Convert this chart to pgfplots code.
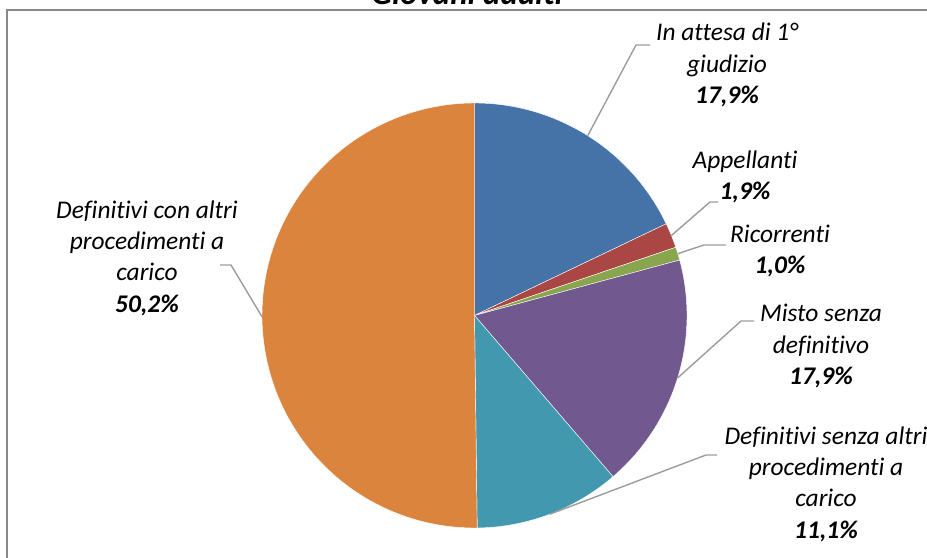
\documentclass[border=0pt]{standalone}
\usepackage{fontspec}
\setmainfont[Ligatures={NoCommon}]{Carlito}
\usepackage{pgfplots}
\pgfplotsset{compat=1.18}
\definecolor{cA}{HTML}{4572A7}
\definecolor{cB}{HTML}{AA4643}
\definecolor{cC}{HTML}{89A54E}
\definecolor{cD}{HTML}{71588F}
\definecolor{cE}{HTML}{4198AF}
\definecolor{cF}{HTML}{DB843D}
\definecolor{leader}{HTML}{9C9C9C}
\definecolor{frame}{HTML}{888888}
% slice values (percent), clockwise from 12 o'clock
\def\vA{17.9}\def\vB{1.9}\def\vC{1.0}\def\vD{17.9}\def\vE{11.1}\def\vF{50.2}
\pgfmathsetmacro{\sA}{0}
\pgfmathsetmacro{\sB}{\sA+\vA}
\pgfmathsetmacro{\sC}{\sB+\vB}
\pgfmathsetmacro{\sD}{\sC+\vC}
\pgfmathsetmacro{\sE}{\sD+\vD}
\pgfmathsetmacro{\sF}{\sE+\vE}
\pgfmathsetmacro{\sG}{\sF+\vF}
\def\cx{474.5}\def\cy{242.5}\def\rr{212.5}
\newcommand{\slice}[3]{%
  \addplot[fill=#1, draw=white, line width=0.4bp, domain={90-3.6*#3}:{90-3.6*#2}, samples=120, variable=\t]
    ({\cx+\rr*cos(\t)},{\cy+\rr*sin(\t)}) -- (axis cs:\cx,\cy) -- cycle;}
\tikzset{lbl/.style={align=center, font=\fontsize{25.5}{31.5}\selectfont\itshape, text=black, inner sep=0pt}}
\begin{document}
\begin{tikzpicture}
\path[use as bounding box] (0,0) rectangle (927bp,558bp);
\begin{axis}[at={(0,0)}, anchor=south west, scale only axis, width=927bp, height=558bp,
  xmin=0, xmax=927, ymin=0, ymax=558, hide axis, clip=false]
\draw[frame, line width=2bp] (axis cs:7,-30) -- (axis cs:7,548) -- (axis cs:980,548);
\node[anchor=base, font=\fontsize{33}{38}\selectfont\bfseries\itshape] at (axis cs:467,553) {Giovani adulti};
\slice{cA}{\sA}{\sB}
\slice{cB}{\sB}{\sC}
\slice{cC}{\sC}{\sD}
\slice{cD}{\sD}{\sE}
\slice{cE}{\sE}{\sF}
\slice{cF}{\sF}{\sG}
\begin{scope}[leader, line width=1.4bp]
\draw (axis cs:587.7,422.3) -- (axis cs:636,513) -- (axis cs:650,513);
\draw (axis cs:671.4,322.5) -- (axis cs:710,356) -- (axis cs:718,356);
\draw (axis cs:677.8,304.3) -- (axis cs:704,313) -- (axis cs:726,313);
\draw (axis cs:677.6,180) -- (axis cs:741,237) -- (axis cs:754,237);
\draw (axis cs:549.6,43.7) -- (axis cs:706,103) -- (axis cs:717,103);
\draw (axis cs:262,241.2) -- (axis cs:231,293) -- (axis cs:220,293);
\end{scope}
\node[lbl] at (axis cs:727,493) {In attesa di 1°\\giudizio\\\textbf{17,9\%}};
\node[lbl] at (axis cs:745,381) {Appellanti\\\textbf{1,9\%}};
\node[lbl] at (axis cs:780,307) {Ricorrenti\\\textbf{1,0\%}};
\node[lbl] at (axis cs:821,212) {Misto senza\\definitivo\\\textbf{17,9\%}};
\node[lbl] at (axis cs:826,74) {Definitivi senza altri\\procedimenti a\\carico\\\textbf{11,1\%}};
\node[lbl] at (axis cs:147,300) {Definitivi con altri\\procedimenti a\\carico\\\textbf{50,2\%}};
\end{axis}
\end{tikzpicture}
\end{document}
